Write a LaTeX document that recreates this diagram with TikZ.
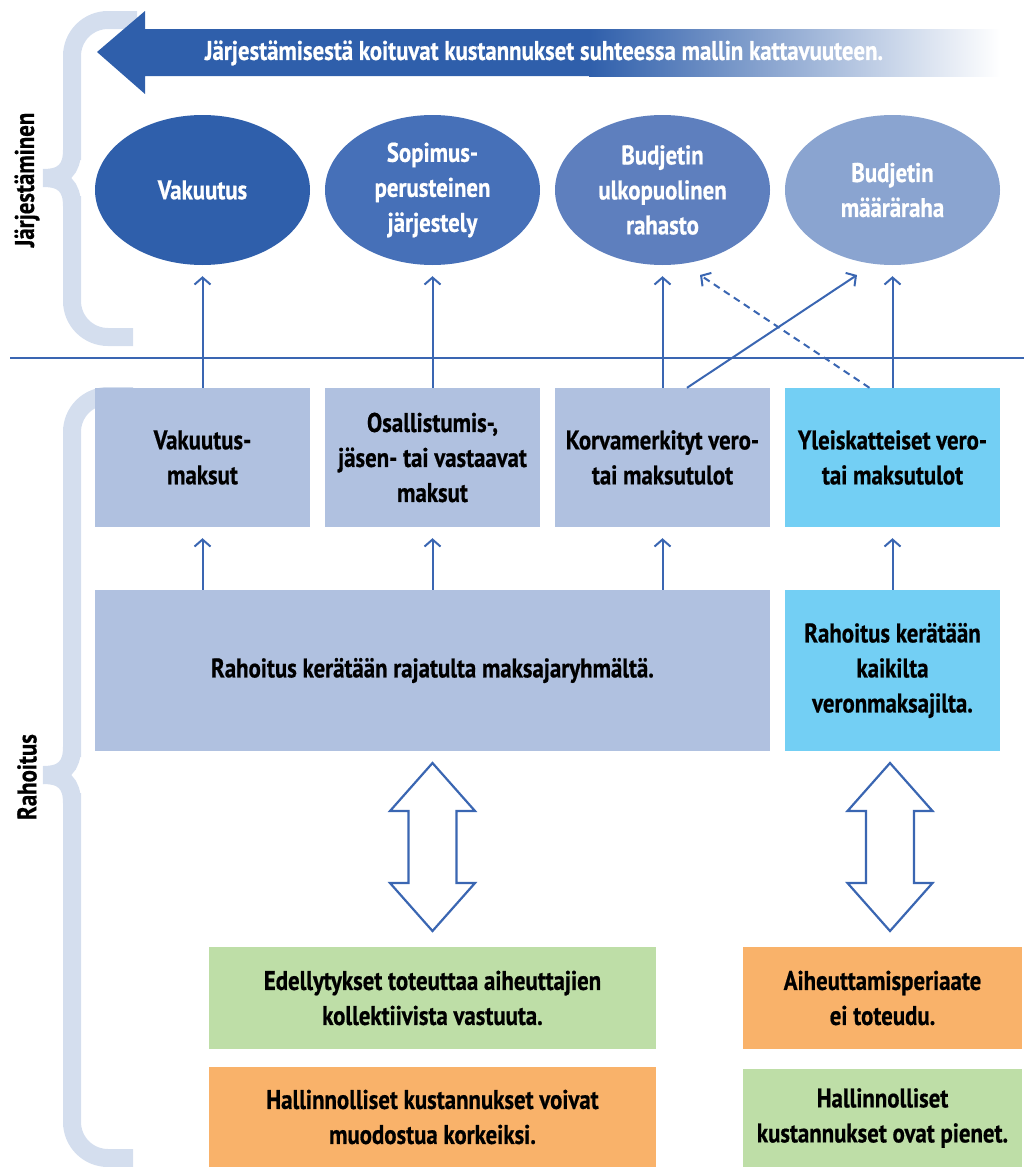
\documentclass[tikz,border=0pt]{standalone}
\usepackage{fontspec}
\setmainfont{PT Sans}[FakeStretch=0.845, FakeBold=0.6]
\usetikzlibrary{shapes.geometric,arrows.meta}
\definecolor{dblue}{HTML}{2F5FAB}
\definecolor{e2c}{HTML}{4670B8}
\definecolor{e3c}{HTML}{5E7FBE}
\definecolor{e4c}{HTML}{8AA4D0}
\definecolor{lav}{HTML}{B0C1E0}
\definecolor{cyanb}{HTML}{73CFF4}
\definecolor{greenb}{HTML}{BEDEA7}
\definecolor{orangeb}{HTML}{F9B26A}
\definecolor{bracec}{HTML}{D4DEEE}
\definecolor{lblue}{HTML}{3A66B2}
\begin{document}
\begin{tikzpicture}[x=1pt,y=-1pt]
\tikzset{
 base/.style={font=\bfseries\fontsize{27}{35}\selectfont, align=center, inner sep=0pt},
 ell/.style={base, ellipse, minimum width=215pt, minimum height=150pt, text=white},
 box/.style={base, rectangle, minimum height=139pt, minimum width=215pt, fill=lav},
 conn/.style={draw=lblue, line width=2pt, -{Straight Barb[length=7pt,width=16pt]}},
 bracepath/.style={draw=bracec, line width=18pt},
 dblarrow/.style={draw=lblue, line width=2.2pt, fill=white, line join=miter},
}
\useasboundingbox (0,0) rectangle (1024,1167);

% braces
\draw[bracepath, rounded corners=36pt] (137,20) -- (72,20) -- (72,160);
\draw[bracepath] (72,150) .. controls (72,170) and (63,178) .. (43,178);
\draw[bracepath] (72,206) .. controls (72,186) and (63,178) .. (43,178);
\draw[bracepath, rounded corners=36pt] (72,196) -- (72,337) -- (133,337);

\draw[bracepath, rounded corners=36pt] (133,396) -- (72,396) -- (72,757);
\draw[bracepath] (72,747) .. controls (72,767) and (63,775) .. (43,775);
\draw[bracepath] (72,803) .. controls (72,783) and (63,775) .. (43,775);
\draw[bracepath, rounded corners=36pt] (72,793) -- (72,1158) -- (133,1158);

\node[base, rotate=90] (lab1) at (27,180) {Järjestäminen};
\node[base, rotate=90] (lab2) at (27,777) {Rahoitus};

% top arrow
\fill[dblue] (97,52) -- (145,11) -- (145,29) -- (590,29) -- (590,76) -- (145,76) -- (145,94) -- cycle;
\shade[left color=dblue, right color=white] (589,29) rectangle (1000,76);
\node[base, text=white] (toptext) at (544,53) {Järjestämisestä koituvat kustannukset suhteessa mallin kattavuuteen.};

% separator
\coordinate (hl) at (10,358);
\coordinate (hr) at (1024,358);
\draw[lblue, line width=1.8pt] (hl) -- (hr);

% ellipses
\node[ell, fill=dblue] (e1) at (202.5,190) {Vakuutus};
\node[ell, fill=e2c] (e2) at (432.5,190) {Sopimus-\\perusteinen\\järjestely};
\node[ell, fill=e3c] (e3) at (662.5,190) {Budjetin\\ulkopuolinen\\rahasto};
\node[ell, fill=e4c] (e4) at (892.5,190) {Budjetin\\määräraha};

% top boxes
\node[box] (b1) at (202.5,457.5) {Vakuutus-\\maksut};
\node[box] (b2) at (432.5,457.5) {Osallistumis-,\\jäsen- tai vastaavat\\maksut};
\node[box] (b3) at (662.5,457.5) {Korvamerkityt vero-\\tai maksutulot};
\node[box, fill=cyanb] (b4) at (892.5,457.5) {Yleiskatteiset vero-\\tai maksutulot};

% middle boxes
\node[base, fill=lav, minimum width=675pt, minimum height=161pt] (big) at (432.5,670.5) {Rahoitus kerätään rajatulta maksajaryhmältä.};
\node[base, fill=cyanb, minimum width=215pt, minimum height=161pt] (rb) at (892.5,670.5) {Rahoitus kerätään\\kaikilta\\veronmaksajilta.};

% bottom boxes
\node[base, fill=greenb, minimum width=447pt, minimum height=102pt] (g1) at (432.5,998) {Edellytykset toteuttaa aiheuttajien\\kollektiivista vastuuta.};
\node[base, fill=orangeb, minimum width=447pt, minimum height=100pt] (o1) at (432.5,1117) {Hallinnolliset kustannukset voivat\\muodostua korkeiksi.};
\node[base, fill=orangeb, minimum width=279pt, minimum height=102pt] (o2) at (882.5,998) {Aiheuttamisperiaate\\ei toteudu.};
\node[base, fill=greenb, minimum width=279pt, minimum height=98pt] (g2) at (882.5,1118) {Hallinnolliset\\kustannukset ovat pienet.};

% connectors up to ellipses
\foreach \i in {1,2,3,4} {
  \draw[conn, shorten >=11pt] (b\i.north) -- (e\i.south);
}
\foreach \i in {1,2,3} {
  \draw[conn, shorten >=11pt] (b\i.south |- big.north) -- (b\i.south);
}
\draw[conn, shorten >=11pt] (rb.north) -- (b4.south);

\coordinate (c1) at (857,275);
\coordinate (c2) at (700,275);
\draw[conn] ([xshift=24.5pt]b3.north) -- (c1);
\draw[conn, dash pattern=on 7pt off 5pt] ([xshift=-23pt]b4.north) -- (c2);

% double arrows
\foreach \cx in {432.5,890} {
  \draw[dblarrow] (\cx,763) -- (\cx+42.5,811) -- (\cx+24,811) -- (\cx+24,883) -- (\cx+42.5,883) -- (\cx,931)
     -- (\cx-42.5,883) -- (\cx-24,883) -- (\cx-24,811) -- (\cx-42.5,811) -- cycle;
}
\end{tikzpicture}
\end{document}
